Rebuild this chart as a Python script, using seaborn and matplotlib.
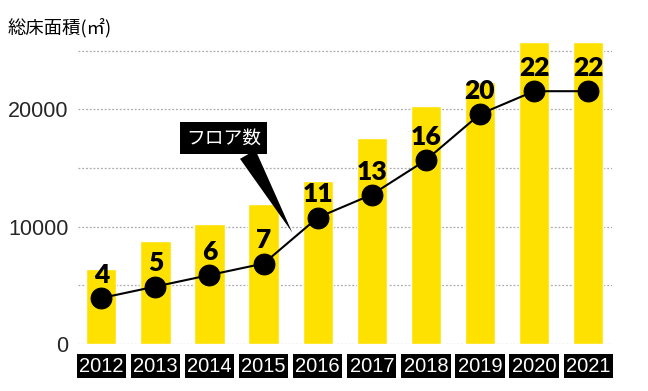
import matplotlib
matplotlib.use("Agg")
import matplotlib.pyplot as plt
import numpy as np
import pandas as pd
import seaborn as sns

# data
years = ["2012", "2013", "2014", "2015", "2016",
         "2017", "2018", "2019", "2020", "2021"]
floor_area = [6400, 8750, 10200, 11900, 13900,
              17550, 20250, 22300, 25700, 25700]
floors = [4, 5, 6, 7, 11, 13, 16, 20, 22, 22]
y_ticks = [0, 5000, 10000, 15000, 20000, 25000]
y_ticklabels = ["0", "", "10000", "", "20000", ""]

YELLOW = "#FFE100"
CJK = ["Noto Sans CJK JP", "DejaVu Sans"]

sns.set_theme(style="white")
plt.rcParams["font.family"] = ["Liberation Sans", "DejaVu Sans"]

fig = plt.figure(figsize=(6.48, 3.91), dpi=100)
ax = fig.add_axes([0.1204, 0.1202, 0.824, 0.770])

df = pd.DataFrame({"year": years, "area": floor_area})
sns.barplot(data=df, x="year", y="area", ax=ax, color=YELLOW,
            saturation=1, width=0.56, zorder=2)

ax.set_ylim(0, 25650)
ax.set_yticks(y_ticks)
ax.set_yticklabels(y_ticklabels, fontsize=15.5)
ax.yaxis.grid(True, linestyle=(0, (1.5, 1.5)), color="#aaaaaa",
              linewidth=0.9, zorder=0)
ax.set_axisbelow(True)
ax.set_xlabel("")
ax.set_ylabel("")
for s in ax.spines.values():
    s.set_visible(False)
ax.tick_params(axis="both", length=0)
ax.tick_params(axis="y", pad=7)
ax.tick_params(axis="x", pad=9)

ax.set_xticks(range(len(years)))
ax.set_xticklabels(years, fontsize=14.5, color="white")
for lbl in ax.get_xticklabels():
    lbl.set_bbox(dict(facecolor="black", edgecolor="none",
                      boxstyle="square,pad=0.12"))

# floor count line on its own scale
ax2 = ax.twinx()
sns.lineplot(x=np.arange(len(years)), y=floors, ax=ax2, color="black",
             linewidth=1.5, marker="o", markersize=15,
             markeredgecolor="black", zorder=3)
ax2.set_ylim(0, 26.2)
ax2.set_yticks([])
for s in ax2.spines.values():
    s.set_visible(False)
for i, f in enumerate(floors):
    ax2.annotate(str(f), (i, f), xytext=(0, 8), textcoords="offset points",
                 ha="center", va="bottom", fontsize=19, fontweight="heavy",
                 family=["Lato", "DejaVu Sans"], color="black")

ax.set_xlim(-0.43, 9.44)
ax2.set_xlim(-0.43, 9.44)

ax2.annotate("フロア数", xy=(3.53, 9.7), xytext=(2.26, 17.9),
             ha="center", va="center", fontsize=13.5, color="white",
             family=CJK,
             bbox=dict(facecolor="black", edgecolor="none",
                       boxstyle="square,pad=0.3"),
             arrowprops=dict(arrowstyle="wedge,tail_width=0.95",
                             facecolor="black", edgecolor="none",
                             relpos=(0.78, 0.0), shrinkA=0, shrinkB=0))

fig.text(0.012, 0.928, "総床面積(㎡)", fontsize=13.2, family=CJK,
         ha="left", va="center", color="black")

fig.savefig("out.png", dpi=100)
